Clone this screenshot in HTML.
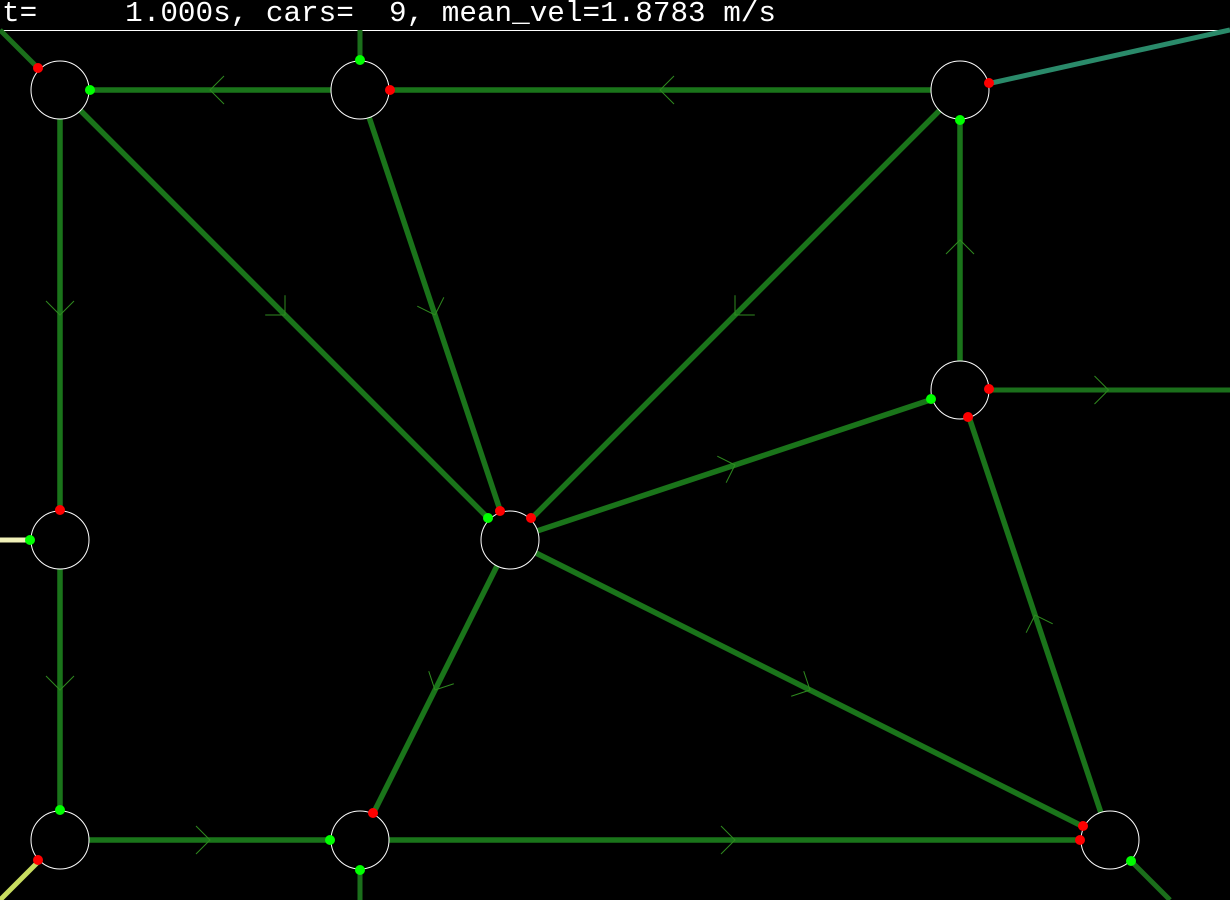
<!DOCTYPE html>
<html><head><meta charset="utf-8"><style>
html,body{margin:0;padding:0;background:#000;width:1230px;height:900px;overflow:hidden}
svg{display:block}
</style></head><body>
<svg id="net" width="1230" height="900" xmlns="http://www.w3.org/2000/svg">
<rect width="1230" height="900" fill="#000"/>
<text x="2" y="21" fill="#fff" font-family="Liberation Mono, monospace" font-size="29" textLength="774" lengthAdjust="spacingAndGlyphs" xml:space="preserve">t=     1.000s, cars=  9, mean_vel=1.8783 m/s</text>
<line x1="0" y1="30.5" x2="1230" y2="30.5" stroke="#fff" stroke-width="1"/>
<g id="edges"></g><g id="arrows"></g><g id="nodes"></g><g id="dots"></g>
</svg>
<script>
const nodeNames=['A','B','C','D','E','F','G','H','I'];
const nodeX=[60,360,960,960,60,510,60,360,1110];
const nodeY=[90,90,90,390,540,540,840,840,840];
const edgeFrom=[1,2,0,4,6,7,3,0,1,2,5,5,5,8];
const edgeTo=[0,1,4,6,7,8,2,5,5,5,3,7,8,3];
const stubNode=[0,1,2,3,4,6,7,8];
const stubX=[0,360,1230,1230,0,0,360,1170];
const stubY=[30,30,30,390,540,900,900,900];
const stubColor=['#1b6f1b','#1b6f1b','#2a8a6a','#1b6f1b','#f0f0b8','#c8dc60','#1b6f1b','#1b6f1b'];
const redX=[38,390,989,500,531,989,968,60,373,1083,1080,38];
const redY=[68,90,83,511,518,389,417,510,813,826,840,860];
const greenX=[90,360,960,488,931,30,60,330,1131,360];
const greenY=[90,60,120,518,399,540,810,840,861,870];
const NS='http://www.w3.org/2000/svg';
function mk(tag,parent,attrs){const e=document.createElementNS(NS,tag);for(const k in attrs)e.setAttribute(k,attrs[k]);parent.appendChild(e);return e;}
const gE=document.getElementById('edges'),gA=document.getElementById('arrows'),gN=document.getElementById('nodes'),gD=document.getElementById('dots');
function arrow(x1,y1,x2,y2,t){
  const dx=x2-x1,dy=y2-y1,len=Math.hypot(dx,dy),ux=dx/len,uy=dy/len;
  const mx=x1+dx*t,my=y1+dy*t,s=14;
  const bx=mx-ux*s,by=my-uy*s;
  const p=mk('polyline',gA,{points:(bx-uy*s)+','+(by+ux*s)+' '+mx+','+my+' '+(bx+uy*s)+','+(by-ux*s),fill:'none',stroke:'#2f8a1f','stroke-width':1});
  
  
}
for(let i=0;i<stubNode.length;i++){
  const n=stubNode[i];
  const l=mk('line',gE,{x1:nodeX[n],y1:nodeY[n],x2:stubX[i],y2:stubY[i],stroke:stubColor[i],'stroke-width':5});
  
  
  if(n===3) arrow(nodeX[n],nodeY[n],stubX[i],stubY[i],0.55);
}
for(let i=0;i<edgeFrom.length;i++){
  const a=edgeFrom[i],b=edgeTo[i];
  const l=mk('line',gE,{x1:nodeX[a],y1:nodeY[a],x2:nodeX[b],y2:nodeY[b],stroke:'#1a741a','stroke-width':5.5});
  
  
  arrow(nodeX[a],nodeY[a],nodeX[b],nodeY[b],0.5);
}
for(let i=0;i<nodeX.length;i++){
  const c=mk('circle',gN,{cx:nodeX[i],cy:nodeY[i],r:29,fill:'#000',stroke:'#fff','stroke-width':1});
  
  
}
for(let i=0;i<redX.length;i++){
  const c=mk('circle',gD,{cx:redX[i],cy:redY[i],r:5,fill:'#ff0000'});
  
  
}
for(let i=0;i<greenX.length;i++){
  const c=mk('circle',gD,{cx:greenX[i],cy:greenY[i],r:5,fill:'#00ff00'});
  
  
}
</script>
</body></html>
